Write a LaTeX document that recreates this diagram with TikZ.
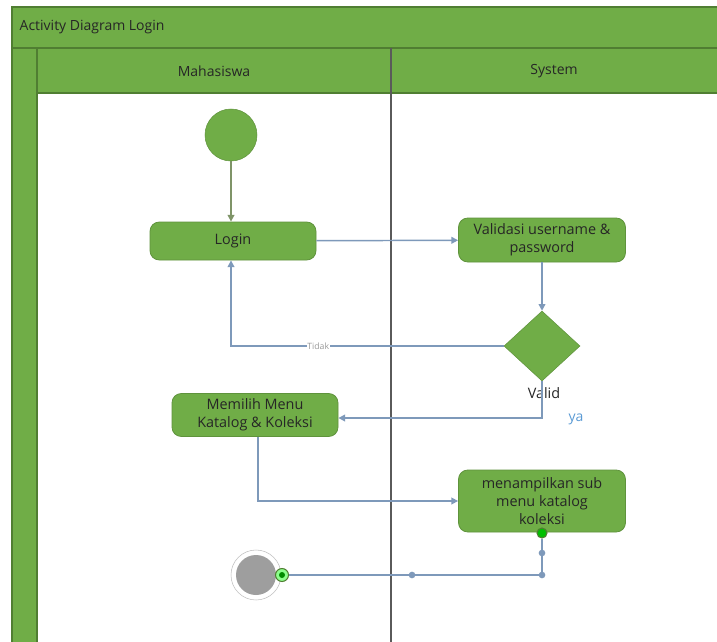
\documentclass[tikz,border=0pt]{standalone}
\usepackage{fontspec}
\setmainfont{Open Sans}
\usetikzlibrary{shapes.geometric,arrows.meta}
\definecolor{gfill}{HTML}{70AD47}
\definecolor{gdark}{HTML}{507E32}
\definecolor{lane}{HTML}{5A5A5A}
\definecolor{conn}{HTML}{7E99BA}
\definecolor{startarr}{HTML}{7F9468}
\definecolor{yablue}{HTML}{5B9BD5}
\definecolor{txt}{HTML}{262626}
\tikzset{
  actbox/.style={draw=gfill!85!black, line width=0.6pt, fill=gfill, rounded corners=7pt, align=center, font=\fontsize{10.8}{13.8}\selectfont, text=txt, inner sep=2pt},
  conline/.style={draw=conn, line width=1.1pt},
  conarrow/.style={conline, -{Triangle[length=5pt,width=5pt]}},
  bendpt/.style={circle, fill=conn, inner sep=0pt, minimum size=5pt},
  hdr/.style={font=\fontsize{10.5}{12}\selectfont, text=txt},
}
\begin{document}
\begin{tikzpicture}[x=0.75pt,y=-0.75pt]
\useasboundingbox (0,0) rectangle (717,642);
\fill[white] (0,0) rectangle (717,642);
% pool frame
\fill[gfill] (12,7) rectangle (717,93);
\fill[gfill] (12,93) rectangle (37,642);
\draw[gdark, line width=0.8pt] (12,642) -- (12,7) -- (717,7);
\draw[gdark, line width=0.8pt] (12,48) -- (717,48);
\draw[gdark, line width=0.8pt] (37,642) -- (37,48);
\draw[gdark, line width=0.8pt] (37,93) -- (717,93);
\draw[lane, line width=1pt] (391,48) -- (391,642);
\node[hdr, anchor=west] (title) at (15,27) {Activity Diagram Login};
\node[hdr] (lane1) at (214,71) {Mahasiswa};
\node[hdr] (lane2) at (554,71) {System};
% nodes
\node[circle, fill=gfill, draw=gfill!85!black, minimum size=52*0.75pt, inner sep=0pt] (start) at (231,135) {};
\node[actbox, minimum width=166*0.75pt, minimum height=38*0.75pt] (login) at (233,241) {Login};
\node[actbox, minimum width=167*0.75pt, minimum height=44*0.75pt] (valid) at (542,240) {Validasi username \&\\password};
\node[diamond, aspect=1.08, fill=gfill, draw=gfill!85!black, minimum width=76*0.75pt, minimum height=70*0.75pt, inner sep=0pt] (dec) at (542,346) {};
\node[font=\fontsize{10.8}{13}\selectfont, text=txt] (validlbl) at (544,393) {Valid};
\node[actbox, minimum width=166*0.75pt, minimum height=43*0.75pt] (memilih) at (255,415) {Memilih Menu\\Katalog \& Koleksi};
\node[actbox, minimum width=167*0.75pt, minimum height=62*0.75pt] (tampil) at (542,501) {menampilkan sub\\menu katalog\\koleksi};
\node[circle, draw=black!25, fill=white, minimum size=50*0.75pt, inner sep=0pt] (endo) at (256,575) {};
\node[circle, fill=black!38, minimum size=40*0.75pt, inner sep=0pt] (endi) at (256,575) {};
\node[circle, draw=gdark, line width=0.8pt, fill=green!45!white, minimum size=13*0.75pt, inner sep=0pt] (endport) at (282,575) {};
\node[circle, fill=green!55!black, minimum size=6*0.75pt, inner sep=0pt] (enddot) at (endport) {};
\node[circle, draw=gdark, line width=0.8pt, fill=green!75!black, minimum size=10*0.75pt, inner sep=0pt] (tport) at (542,533) {};
\coordinate (c1) at (231,346);
\coordinate (c2) at (542,418);
\coordinate (c3) at (258,501);
\coordinate (c4) at (542,575);
% connectors
\draw[draw=startarr, line width=1.1pt, -{Triangle[length=5pt,width=5pt]}] (start) -- (start |- login.north);
\draw[conarrow] (login) -- (valid);
\draw[conarrow] (valid) -- (dec);
\draw[conarrow] (dec.west) -- node[pos=0.68, fill=white, inner sep=0.5pt, font=\fontsize{6.5}{7}\selectfont, text=black!40] (tidak) {Tidak} (c1) -- (login.south -| c1);
\draw[conarrow] (dec.south) -- (c2) -- (memilih.east |- c2);
\node[text=yablue, font=\fontsize{10.5}{12}\selectfont] (ya) at (576,419) {ya};
\draw[conarrow] (memilih.south -| c3) -- (c3) -- (tampil.west);
\draw[conline] (tport) -- (c4) -- (endport);
\node[bendpt] (b1) at (542,553) {};
\node[bendpt] (b2) at (c4) {};
\node[bendpt] (b3) at (412,575) {};
\end{tikzpicture}
\end{document}
